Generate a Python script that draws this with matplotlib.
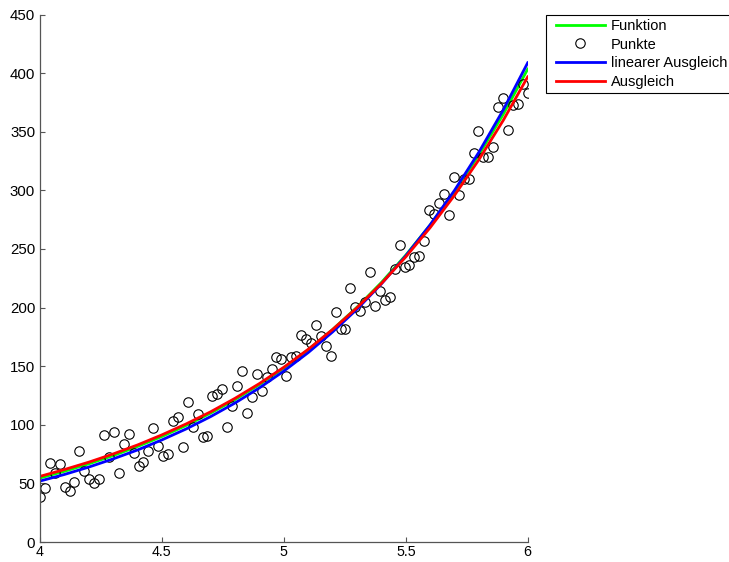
import numpy as np
import matplotlib
matplotlib.use("Agg")
import matplotlib.pyplot as plt
from matplotlib.lines import Line2D
from matplotlib.legend_handler import HandlerLine2D

plt.rcParams["font.family"] = ["Liberation Sans", "DejaVu Sans"]

# ---------------------------------------------------------------------------
# Data
# ---------------------------------------------------------------------------
# 100 noisy samples on an even grid from 4 to 6
x_pts = np.linspace(4.0, 6.0, 100)
y_pts = [
    38.7, 45.8, 67.7, 59.1, 66.6, 46.7, 43.8, 51.5, 77.9, 60.6,
    53.8, 50.1, 54.0, 91.6, 72.3, 93.6, 58.6, 83.6, 92.0, 75.7,
    65.1, 68.5, 77.9, 97.0, 81.9, 73.4, 75.0, 103.0, 107.0, 80.8,
    119.7, 98.4, 109.0, 89.3, 90.4, 124.6, 126.5, 130.5, 98.4, 116.0,
    133.0, 145.6, 109.8, 123.5, 143.0, 128.8, 140.5, 148.0, 157.6, 156.0,
    142.0, 158.0, 159.0, 176.6, 173.0, 169.5, 185.4, 175.8, 167.5, 158.5,
    196.5, 181.7, 181.7, 216.5, 200.8, 197.0, 205.0, 230.6, 201.6, 214.4,
    206.5, 208.8, 233.0, 253.4, 234.9, 236.3, 243.0, 244.0, 256.8, 283.3,
    279.9, 289.0, 297.0, 279.0, 311.7, 296.0, 310.0, 309.5, 332.0, 351.0,
    328.8, 328.8, 336.8, 371.4, 378.6, 351.5, 372.9, 373.7, 390.5, 382.8,
]

# curves, sampled every 0.1
x_curve = [4.0, 4.1, 4.2, 4.3, 4.4, 4.5, 4.6, 4.7, 4.8, 4.9, 5.0,
           5.1, 5.2, 5.3, 5.4, 5.5, 5.6, 5.7, 5.8, 5.9, 6.0]
y_funktion = [54.6, 60.3, 66.7, 73.7, 81.5, 90.0, 99.5, 110.0, 121.5, 134.3,
              148.4, 164.0, 181.3, 200.3, 221.4, 244.7, 270.4, 298.9, 330.3,
              365.0, 403.4]
y_linear = [52.0, 57.6, 63.9, 70.9, 78.5, 87.1, 96.5, 107.0, 118.6, 131.5,
            145.8, 161.6, 179.2, 198.6, 220.2, 244.1, 270.6, 300.0, 332.6,
            368.7, 408.8]
y_ausgleich = [56.0, 61.8, 68.1, 75.1, 82.8, 91.4, 100.8, 111.1, 122.6, 135.2,
               149.1, 164.4, 181.3, 199.9, 220.5, 243.2, 268.2, 295.8, 326.2,
               359.8, 396.8]

x_ticks = [4, 4.5, 5, 5.5, 6]
x_ticklabels = ["4", "4.5", "5", "5.5", "6"]
y_ticks = [0, 50, 100, 150, 200, 250, 300, 350, 400, 450]

# ---------------------------------------------------------------------------
# Figure
# ---------------------------------------------------------------------------
W, H = 729, 562
fig = plt.figure(figsize=(W / 100, H / 100), dpi=100)
fig.patch.set_facecolor("white")
ax = fig.add_axes([40 / W, 20 / H, 487.7 / W, 527.5 / H])

ax.plot(x_curve, y_funktion, color=(0, 1, 0), lw=2.0, label="Funktion")
ax.plot(x_pts, y_pts, "o", mfc="none", mec="black", ms=6.8, mew=0.8,
        label="Punkte")
ax.plot(x_curve, y_linear, color=(0, 0, 1), lw=2.0,
        label="linearer Ausgleich")
ax.plot(x_curve, y_ausgleich, color=(1, 0, 0), lw=2.0, label="Ausgleich")

ax.set_xlim(4, 6)
ax.set_ylim(0, 450)
ax.set_xticks(x_ticks)
ax.set_xticklabels(x_ticklabels)
ax.set_yticks(y_ticks)

axis_col = "#555555"
for side in ("top", "right"):
    ax.spines[side].set_visible(False)
for side in ("left", "bottom"):
    ax.spines[side].set_color(axis_col)
    ax.spines[side].set_linewidth(0.9)
ax.tick_params(direction="in", length=3.5, width=0.8, color=axis_col,
               labelcolor="black")
ax.tick_params(axis="x", pad=2.0, labelsize=10.3)
ax.tick_params(axis="y", pad=3.5, labelsize=10.8)

# legend sits partly outside the figure, as in the original (gets clipped)
leg = ax.legend(loc="upper left", bbox_to_anchor=(546 / W, 1 - 14.7 / H),
                bbox_transform=fig.transFigure, borderaxespad=0,
                fontsize=10.5, fancybox=False, framealpha=1,
                edgecolor="black", handlelength=3.74, handletextpad=0.41,
                labelspacing=0.33, borderpad=0.28,
                handler_map={Line2D: HandlerLine2D(xpad=0.38)})
leg.get_frame().set_linewidth(0.8)

fig.savefig("out.png", dpi=100, facecolor="white")
